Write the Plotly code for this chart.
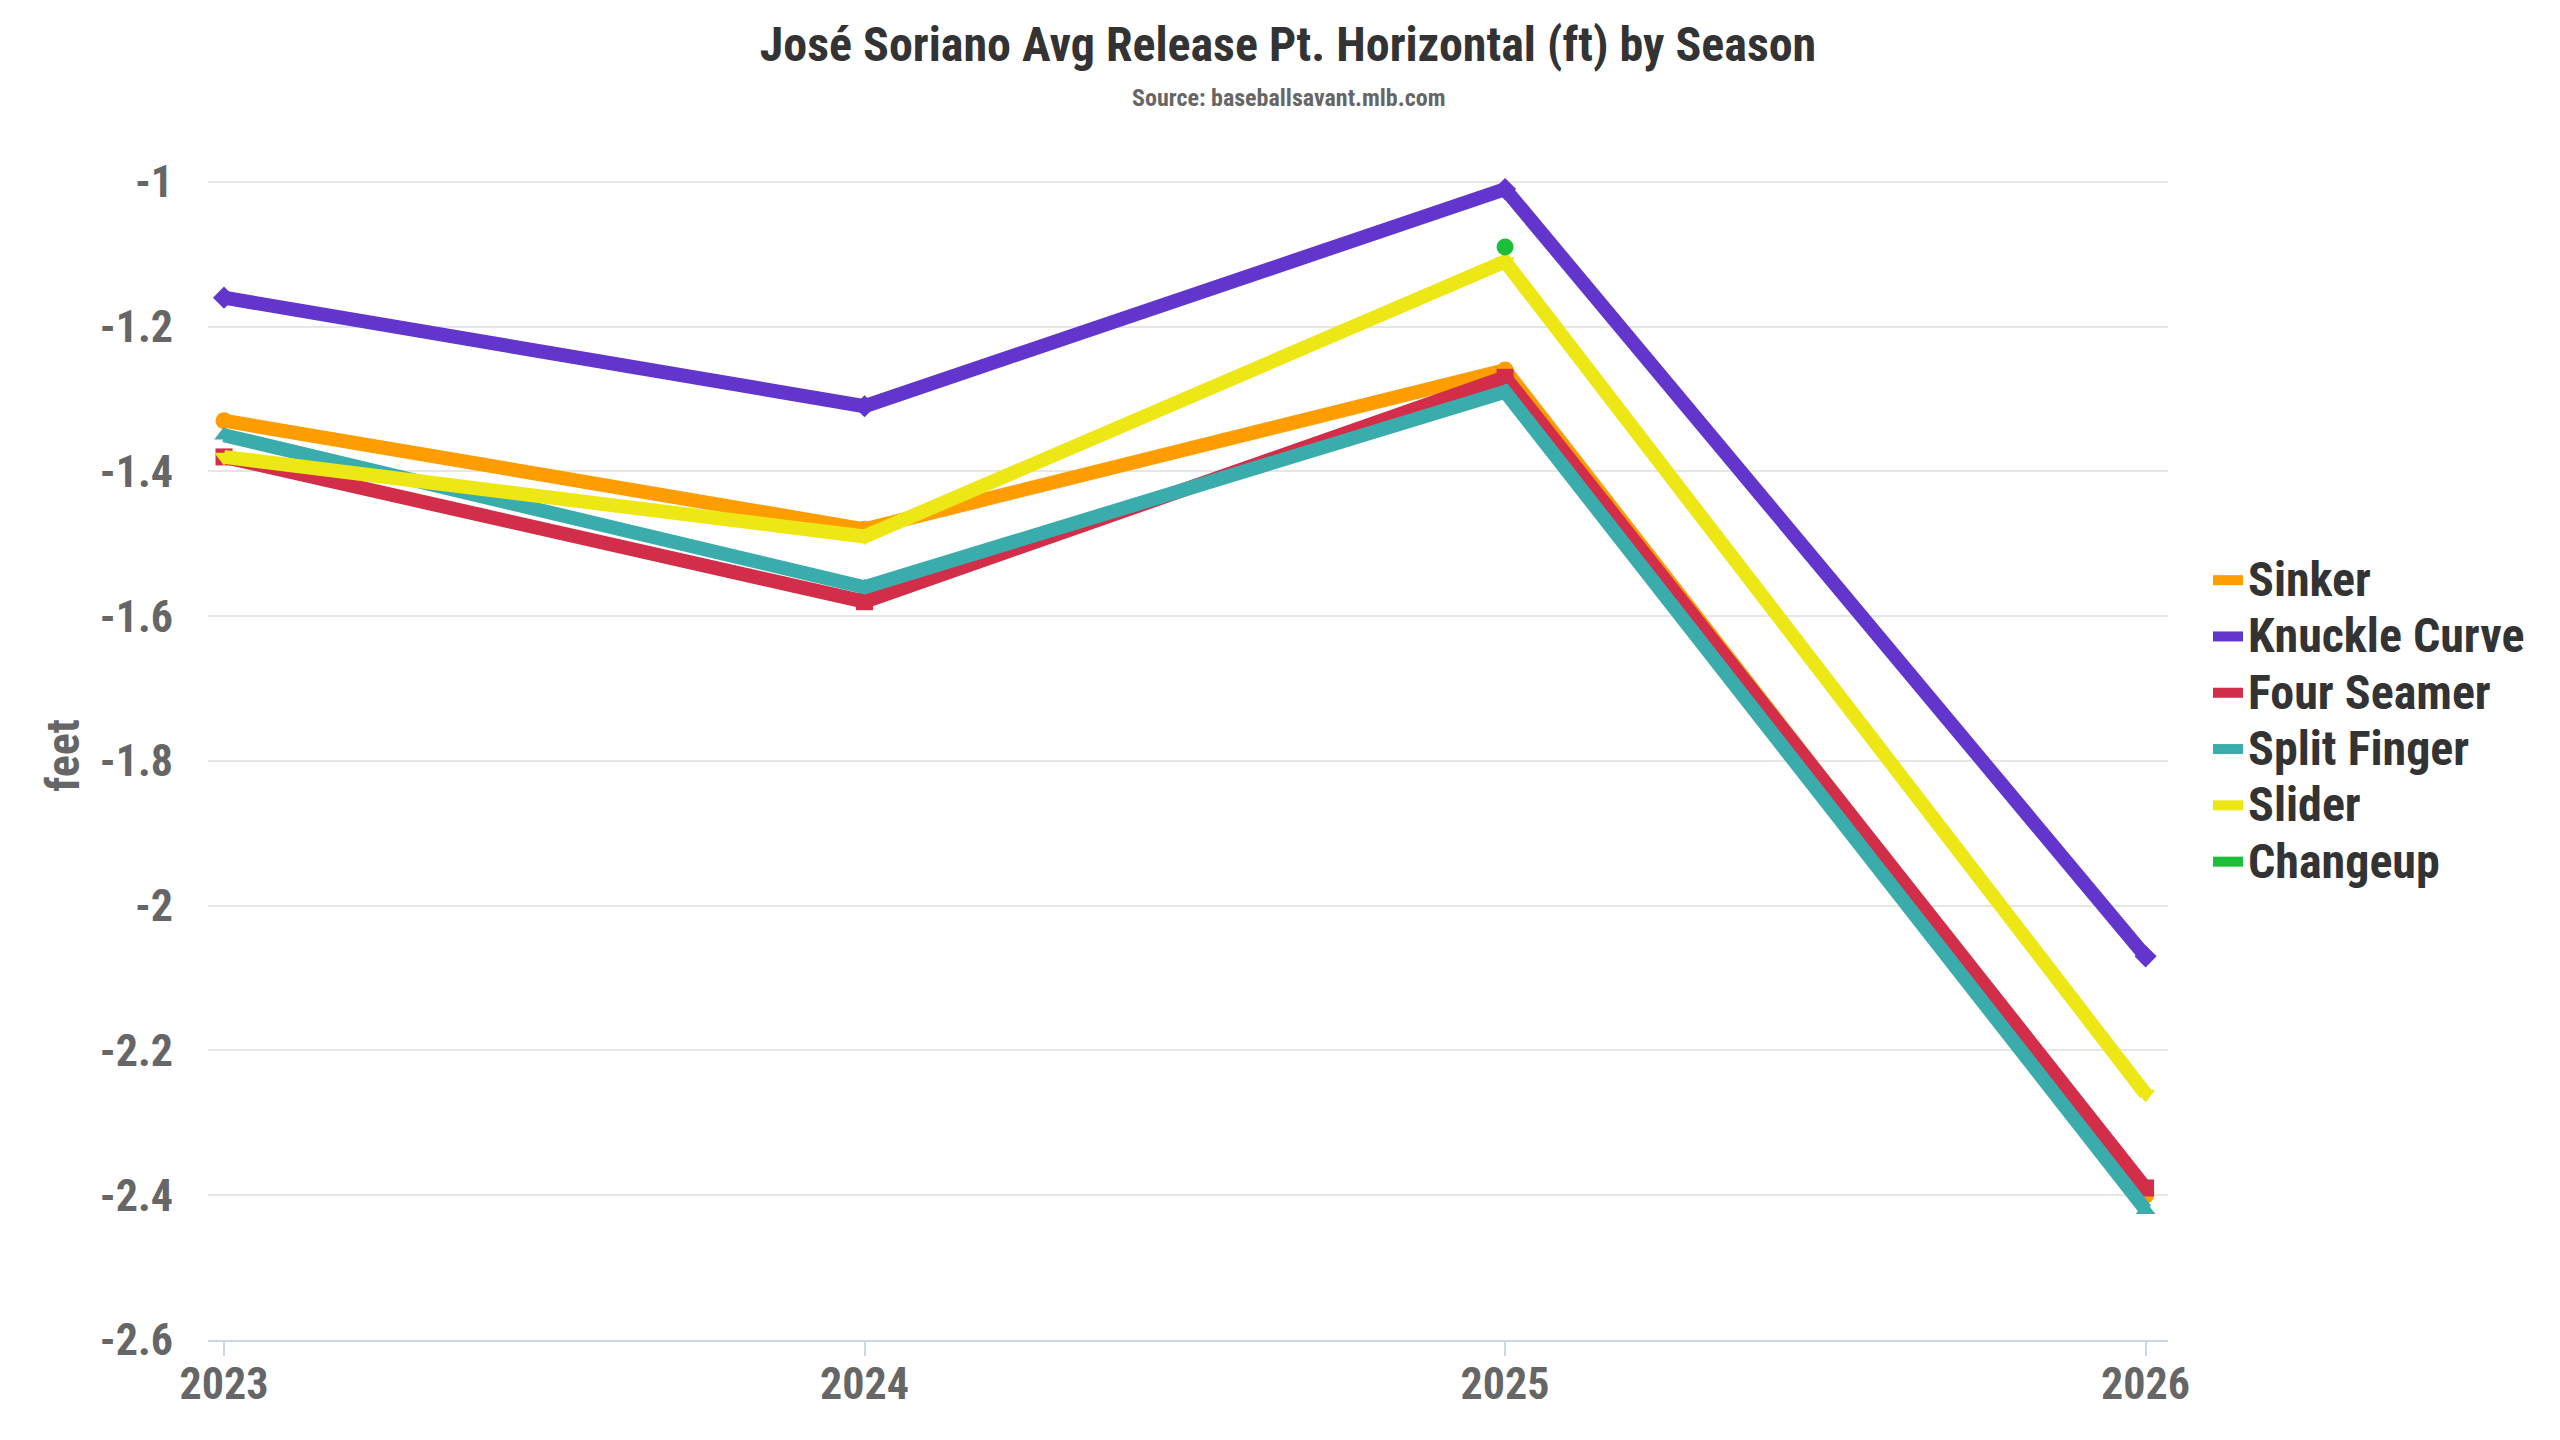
import plotly.graph_objects as go

seasons = [2023, 2024, 2025, 2026]
series_names = ["Sinker", "Knuckle Curve", "Four Seamer", "Split Finger", "Slider", "Changeup"]
sinker = [-1.33, -1.48, -1.26, -2.40]
knuckle_curve = [-1.16, -1.31, -1.01, -2.07]
four_seamer = [-1.38, -1.58, -1.27, -2.39]
split_finger = [-1.35, -1.56, -1.29, -2.42]
slider = [-1.38, -1.49, -1.11, -2.26]
changeup = [None, None, -1.09, None]
y_ticks = [-1, -1.2, -1.4, -1.6, -1.8, -2, -2.2, -2.4, -2.6]
y_tick_labels = ["-1", "-1.2", "-1.4", "-1.6", "-1.8", "-2", "-2.2", "-2.4", "-2.6"]

values = [sinker, knuckle_curve, four_seamer, split_finger, slider, changeup]
colors = ["#FE9D00", "#6236CD", "#D22D49", "#3BACAC", "#EEE716", "#1DBE3A"]
symbols = ["circle", "diamond", "square", "triangle-up", "triangle-down", "circle"]

FONT = "Roboto Condensed, Liberation Sans Narrow, Roboto, sans-serif"

fig = go.Figure()
for name, vals, col, sym in zip(series_names, values, colors, symbols):
    fig.add_trace(go.Scatter(
        x=seasons, y=vals, name=name, mode="lines+markers",
        line=dict(color=col, width=14),
        marker=dict(color=col, size=17, symbol=sym),
        connectgaps=False, showlegend=False, cliponaxis=False,
    ))
for name, col in zip(series_names, colors):
    fig.add_trace(go.Scatter(
        x=[None], y=[None], name="<span style='font-size:48px'>" + name + "</span>",
        mode="lines", line=dict(color=col, width=14), showlegend=True,
    ))

L, R, T, B = 200, 400, 163, 108
plot_w = 2560 - L - R
plot_h = 1440 - T - B

fig.update_layout(
    width=2560, height=1440,
    paper_bgcolor="white", plot_bgcolor="white",
    margin=dict(l=L, r=R, t=T, b=B),
    font=dict(family=FONT, color="#666666", size=44),
    title=dict(
        text="José Soriano Avg Release Pt. Horizontal (ft) by Season",
        x=0.5, xanchor="center", xref="container",
        y=1 - 36 / 1440, yanchor="middle", yref="container",
        font=dict(family=FONT, size=48, color="#333333", weight=700),
    ),
    annotations=[dict(
        text="Source: baseballsavant.mlb.com", showarrow=False,
        xref="paper", yref="paper", x=(1280 - L) / plot_w, y=1 + (T - 90) / plot_h,
        xanchor="center", yanchor="middle",
        font=dict(family=FONT, size=24, color="#666666", weight=700),
    )],
    legend=dict(
        x=(2200 - L) / plot_w, xanchor="left", y=(1332 - 713) / plot_h, yanchor="middle",
        font=dict(family=FONT, size=41, color="#333333", weight=700),
        bgcolor="rgba(0,0,0,0)", itemwidth=30, tracegroupgap=0,
    ),
    showlegend=True,
)
fig.update_xaxes(
    range=[2022.975, 2026.035], tickmode="array", tickvals=seasons,
    ticktext=[str(s) for s in seasons],
    showgrid=False, zeroline=False,
    showline=True, linecolor="#ccd6eb", linewidth=2,
    ticks="outside", ticklen=14, tickcolor="#ccd6eb", tickwidth=2,
    ticklabelstandoff=-10,
    tickfont=dict(family=FONT, size=44, color="#666666", weight=700),
)
fig.update_yaxes(
    range=[-2.6, -0.985], tickmode="array", tickvals=y_ticks, ticktext=y_tick_labels,
    showgrid=True, gridcolor="#e6e6e6", gridwidth=2, zeroline=False,
    showline=False, ticks="", ticklabelstandoff=34,
    tickfont=dict(family=FONT, size=44, color="#666666", weight=700),
    title=dict(text="feet", standoff=5,
               font=dict(family=FONT, size=46, color="#666666", weight=700)),
)

fig.write_html("out.html")
